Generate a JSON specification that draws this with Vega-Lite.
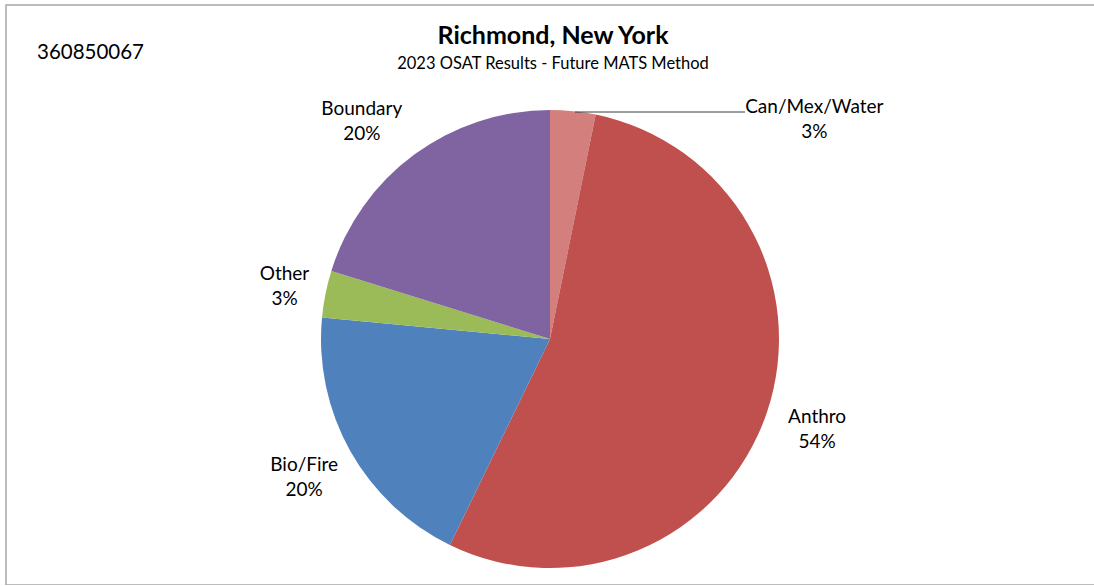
{
  "$schema": "https://vega.github.io/schema/vega-lite/v6.json",
  "width": 1100,
  "height": 580,
  "autosize": "none",
  "padding": {"left": 6, "top": 5, "right": 0, "bottom": 0},
  "background": "white",
  "view": {"stroke": "#a6a6a6", "strokeWidth": 1.5, "fill": "white"},
  "config": {
    "view": {"stroke": "#a6a6a6", "strokeWidth": 1.5},
    "font": "Lato"
  },
  "title": {
    "text": "Richmond, New York",
    "subtitle": "2023 OSAT Results - Future MATS Method",
    "fontSize": 25,
    "fontWeight": "bold",
    "color": "black",
    "subtitleFontSize": 16.5,
    "subtitleColor": "black",
    "subtitlePadding": 7,
    "anchor": "middle",
    "dx": -3,
    "offset": -67
  },
  "data": {
    "values": [
      {"source": "Can/Mex/Water", "value": 3.2, "order": 1, "label": ["Can/Mex/Water", "3%"]},
      {"source": "Anthro", "value": 54.0, "order": 2, "label": ["Anthro", "54%"]},
      {"source": "Bio/Fire", "value": 19.3, "order": 3, "label": ["Bio/Fire", "20%"]},
      {"source": "Other", "value": 3.3, "order": 4, "label": ["Other", "3%"]},
      {"source": "Boundary", "value": 20.2, "order": 5, "label": ["Boundary", "20%"]}
    ]
  },
  "layer": [
    {
      "mark": {"type": "arc", "radius": 229, "x": {"expr": "width/2 - 6"}, "y": {"expr": "height/2 + 44"}},
      "encoding": {
        "theta": {"field": "value", "type": "quantitative", "stack": true},
        "order": {"field": "order", "type": "quantitative"},
        "color": {
          "field": "source",
          "type": "nominal",
          "scale": {
            "domain": ["Can/Mex/Water", "Anthro", "Bio/Fire", "Other", "Boundary"],
            "range": ["#d27f7d", "#C0504D", "#4F81BD", "#9BBB59", "#8064A2"]
          },
          "legend": null
        }
      }
    },
    {
      "mark": {"type": "text", "radius": 282, "x": {"expr": "width/2 - 6"}, "y": {"expr": "height/2 + 44"}, "dy": -12.5, "fontSize": 19, "lineHeight": 25, "align": "center", "baseline": "middle", "color": "black"},
      "encoding": {
        "theta": {"field": "value", "type": "quantitative", "stack": true},
        "order": {"field": "order", "type": "quantitative"},
        "text": {"condition": {"test": "datum.source === 'Can/Mex/Water' || datum.source === 'Boundary' || datum.source === 'Other'", "value": ""}, "field": "label"}
      }
    },
    {
      "mark": {"type": "text", "radius": 282, "x": {"expr": "width/2 - 6"}, "y": {"expr": "height/2 + 44"}, "dx": 11, "dy": -10, "fontSize": 19, "lineHeight": 25, "align": "center", "baseline": "middle", "color": "black"},
      "encoding": {
        "theta": {"field": "value", "type": "quantitative", "stack": true},
        "order": {"field": "order", "type": "quantitative"},
        "text": {"condition": {"test": "datum.source !== 'Other'", "value": ""}, "field": "label"}
      }
    },
    {
      "mark": {"type": "text", "radius": 282, "x": {"expr": "width/2 - 6"}, "y": {"expr": "height/2 + 44"}, "dx": -21, "dy": -2.5, "fontSize": 19, "lineHeight": 25, "align": "center", "baseline": "middle", "color": "black"},
      "encoding": {
        "theta": {"field": "value", "type": "quantitative", "stack": true},
        "order": {"field": "order", "type": "quantitative"},
        "text": {"condition": {"test": "datum.source !== 'Boundary'", "value": ""}, "field": "label"}
      }
    },
    {
      "mark": {"type": "text", "radius": 282, "x": {"expr": "width/2 - 6"}, "y": {"expr": "height/2 + 44"}, "dx": 236, "dy": 48.5, "fontSize": 19, "lineHeight": 25, "align": "center", "baseline": "middle", "color": "black"},
      "encoding": {
        "theta": {"field": "value", "type": "quantitative", "stack": true},
        "order": {"field": "order", "type": "quantitative"},
        "text": {"condition": {"test": "datum.source !== 'Can/Mex/Water'", "value": ""}, "field": "label"}
      }
    },
    {
      "data": {"values": [{"note": "leader"}]},
      "mark": {"type": "rule", "color": "#3a3a3a", "strokeWidth": 1},
      "encoding": {
        "x": {"value": 569},
        "x2": {"value": 739},
        "y": {"value": 107}
      }
    },
    {
      "data": {"values": [{"site": "360850067"}]},
      "mark": {"type": "text", "x": 31, "y": 48, "align": "left", "baseline": "middle", "fontSize": 20.5, "color": "black"},
      "encoding": {"text": {"field": "site"}}
    }
  ]
}
